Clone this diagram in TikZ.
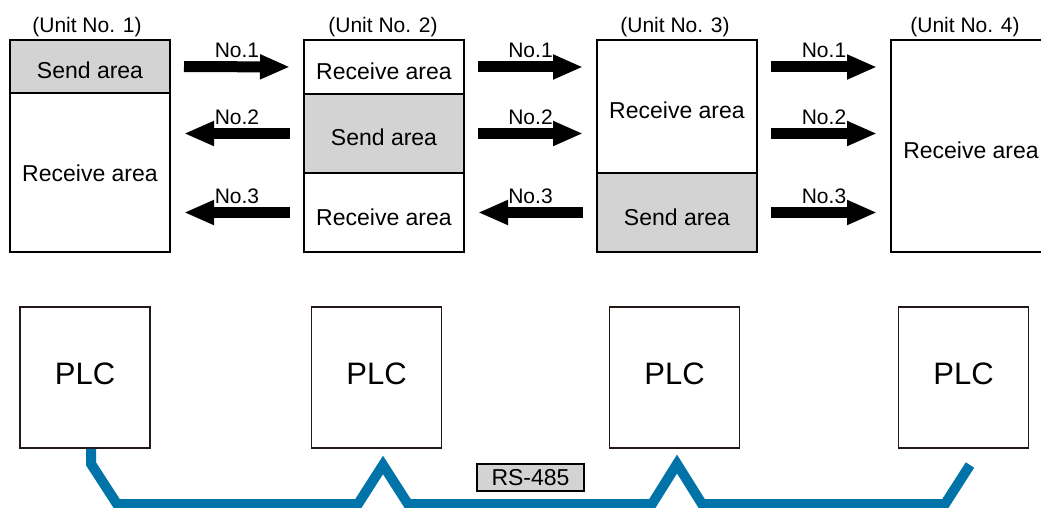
\documentclass[tikz,border=0pt]{standalone}
\usepackage{fontspec}
\setmainfont{Liberation Sans}
\usepackage{tikz}
\usetikzlibrary{arrows.meta,calc}
\definecolor{areagray}{RGB}{211,211,211}
\definecolor{cableblue}{RGB}{0,116,168}
\definecolor{plcline}{RGB}{35,24,21}
\tikzset{
  area/.style={draw=black, line width=2pt, minimum width=160pt, inner sep=0pt, outer sep=0pt, font=\fontsize{23pt}{27pt}\selectfont, text height=25pt, text depth=0pt},
  sendarea/.style={area, fill=areagray},
  recvarea/.style={area, fill=white},
  unitname/.style={anchor=base, inner sep=0pt, font=\fontsize{21pt}{25pt}\selectfont},
  plcbox/.style={draw=plcline, line width=1.6pt, minimum width=130pt, minimum height=141pt, inner sep=0pt, font=\fontsize{31pt}{36pt}\selectfont, text depth=7pt},
  datarrow/.style={-{Triangle[length=30pt, width=23pt]}, line width=11pt, shorten <=14pt, shorten >=14pt},
  dataname/.style={above, inner sep=0pt, yshift=3.5pt, font=\fontsize{21pt}{25pt}\selectfont},
  cable/.style={draw=cableblue, line width=10pt},
  busname/.style={draw=black, line width=1.2pt, fill=areagray, minimum width=107pt, minimum height=27pt, inner sep=0pt, font=\fontsize{23pt}{27pt}\selectfont}
}

\begin{document}
\begin{tikzpicture}[x=1pt, y=-1pt]
  \useasboundingbox (0,0) rectangle (1041,508);

  % Unit No. 1
  \node[sendarea, minimum height=53pt, anchor=north west] (snd1) at (10,40) {Send area};
  \node[recvarea, minimum height=159pt, anchor=north, text height=17pt] (rcv1) at (snd1.south) {Receive area};
  \node[unitname] (unit1) at ([xshift=-3pt, yshift=7pt]snd1.north) {(Unit No. 1)};

  % Unit No. 2
  \node[recvarea, minimum height=54pt, anchor=north west] (rcv21) at (304,40) {Receive area};
  \node[sendarea, minimum height=79pt, anchor=north] (snd2) at (rcv21.south) {Send area};
  \node[recvarea, minimum height=79pt, anchor=north] (rcv22) at (snd2.south) {Receive area};
  \node[unitname] (unit2) at ([xshift=-1pt, yshift=7pt]rcv21.north) {(Unit No. 2)};

  % Unit No. 3
  \node[recvarea, minimum height=133pt, anchor=north west] (rcv3) at (597,40) {Receive area};
  \node[sendarea, minimum height=79pt, anchor=north] (snd3) at (rcv3.south) {Send area};
  \node[unitname] (unit3) at ([xshift=-2pt, yshift=7pt]rcv3.north) {(Unit No. 3)};

  % Unit No. 4
  \node[recvarea, minimum height=212pt, anchor=north west] (rcv4) at (891,40) {Receive area};
  \node[unitname] (unit4) at ([xshift=-6pt, yshift=7pt]rcv4.north) {(Unit No. 4)};

  % Data between units 1 and 2
  \draw[datarrow] (snd1.east) -- node[dataname]{No.1} (rcv21.west);
  \draw[datarrow] (snd2.west) -- node[dataname]{No.2} (snd2.west -| rcv1.east);
  \draw[datarrow] (rcv22.west) -- node[dataname]{No.3} (rcv22.west -| rcv1.east);

  % Data between units 2 and 3
  \draw[datarrow] (rcv21.east) -- node[dataname]{No.1} (rcv21.east -| rcv3.west);
  \draw[datarrow] (snd2.east) -- node[dataname]{No.2} (snd2.east -| rcv3.west);
  \draw[datarrow] (snd3.west) -- node[dataname]{No.3} (rcv22.east);

  % Data between units 3 and 4
  \draw[datarrow] (rcv3.east |- rcv21) -- node[dataname]{No.1} (rcv4.west |- rcv21);
  \draw[datarrow] (rcv3.east |- snd2) -- node[dataname]{No.2} (rcv4.west |- snd2);
  \draw[datarrow] (snd3.east) -- node[dataname]{No.3} (rcv4.west |- snd3);

  % PLCs
  \node[plcbox] (plc1) at (85,377.5) {PLC};
  \node[plcbox] (plc2) at (376.5,377.5) {PLC};
  \node[plcbox] (plc3) at (674.5,377.5) {PLC};
  \node[plcbox] (plc4) at (963.5,377.5) {PLC};

  % RS-485 line
  \coordinate (busend) at (970,465);
  \draw[cable] ([xshift=6pt]plc1.south) -- ++(0,15) -- (117,504) -- (358,504) -- (383,465)
    -- (408,504) -- (652,504) -- (677,464) -- (702,504) -- (945,504) -- (busend);
  \node[busname] (bus) at (530.5,477.5) {RS-485};
\end{tikzpicture}
\end{document}
